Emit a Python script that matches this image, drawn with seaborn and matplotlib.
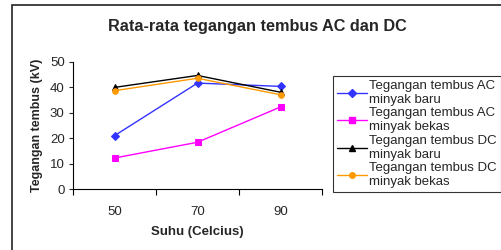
import pandas as pd
import numpy as np
import matplotlib
matplotlib.use("Agg")
import matplotlib.pyplot as plt
import seaborn as sns
from matplotlib.patches import Rectangle

suhu = ["50", "70", "90"]
ac_baru = [21.0, 41.7, 40.4]
ac_bekas = [12.2, 18.4, 32.3]
dc_baru = [40.0, 44.7, 38.1]
dc_bekas = [38.7, 43.6, 37.1]
series_names = ["Tegangan tembus AC minyak baru", "Tegangan tembus AC minyak bekas",
                "Tegangan tembus DC minyak baru", "Tegangan tembus DC minyak bekas"]
legend_labels = ["Tegangan tembus AC\nminyak baru", "Tegangan tembus AC\nminyak bekas",
                 "Tegangan tembus DC\nminyak baru", "Tegangan tembus DC\nminyak bekas"]
colors = ["#3333FF", "#FF00FF", "#000000", "#FF9900"]
markers = ["D", "s", "^", "o"]

sns.set_style("ticks")
plt.rcParams["font.family"] = ["Liberation Sans", "DejaVu Sans"]

df = pd.DataFrame({
    "Suhu": suhu * 4,
    "Tegangan": ac_baru + ac_bekas + dc_baru + dc_bekas,
    "Seri": np.repeat(series_names, 3),
})

fig = plt.figure(figsize=(5.01, 2.5), dpi=100)
ax = fig.add_axes([73 / 501, 1 - 189 / 250, (322 - 73) / 501, (189 - 62) / 250])

sns.pointplot(data=df, x="Suhu", y="Tegangan", hue="Seri", order=suhu,
              hue_order=series_names, palette=colors, markers=markers,
              linestyles="-", markersize=4, linewidth=1, ax=ax, legend=False)
for coll in ax.collections:
    coll.set_edgecolor("face")

ax.set_xlim(-0.5, 2.5)
ax.set_ylim(0, 50)
ax.set_yticks([0, 10, 20, 30, 40, 50])
ax.set_xticks([0, 1, 2])
ax.set_xticklabels(suhu)
ax.set_xticks([-0.5, 0.5, 1.5, 2.5], minor=True)
ax.tick_params(axis="x", which="major", length=0, pad=12, labelsize=9.5)
ax.tick_params(axis="x", which="minor", length=4, width=0.8, color="black")
ax.tick_params(axis="y", length=3, width=0.8, labelsize=9.5, pad=3)
for s in ["top", "right"]:
    ax.spines[s].set_visible(False)
for s in ["left", "bottom"]:
    ax.spines[s].set_color("black")
    ax.spines[s].set_linewidth(0.8)

ax.set_xlabel("Suhu (Celcius)", fontsize=9.5, fontweight="bold", labelpad=6)
ax.set_ylabel("Tegangan tembus (kV)", fontsize=9, fontweight="bold", labelpad=5)

handles = [plt.Line2D([], [], color=c, marker=m, markersize=4, lw=1)
           for c, m in zip(colors, markers)]
leg = fig.legend(handles, legend_labels, loc="upper left",
                 bbox_to_anchor=(333 / 501, 1 - 76 / 250), fontsize=9.5,
                 frameon=True, fancybox=False, handlelength=2.25,
                 handletextpad=0.2, labelspacing=0.12, borderpad=0.3,
                 borderaxespad=0)
leg.get_frame().set_edgecolor("black")
leg.get_frame().set_linewidth(0.8)

fig.text(257 / 501, 1 - 26 / 250, "Rata-rata tegangan tembus AC dan DC",
         ha="center", va="center", fontsize=11.7, fontweight="bold")

fig.patches.append(Rectangle((12 / 501, -0.1), 1.2, 1 - 5 / 250 + 0.1,
                             transform=fig.transFigure, fill=False,
                             edgecolor="#222222", linewidth=1.2))

fig.savefig("out.png", dpi=100)
